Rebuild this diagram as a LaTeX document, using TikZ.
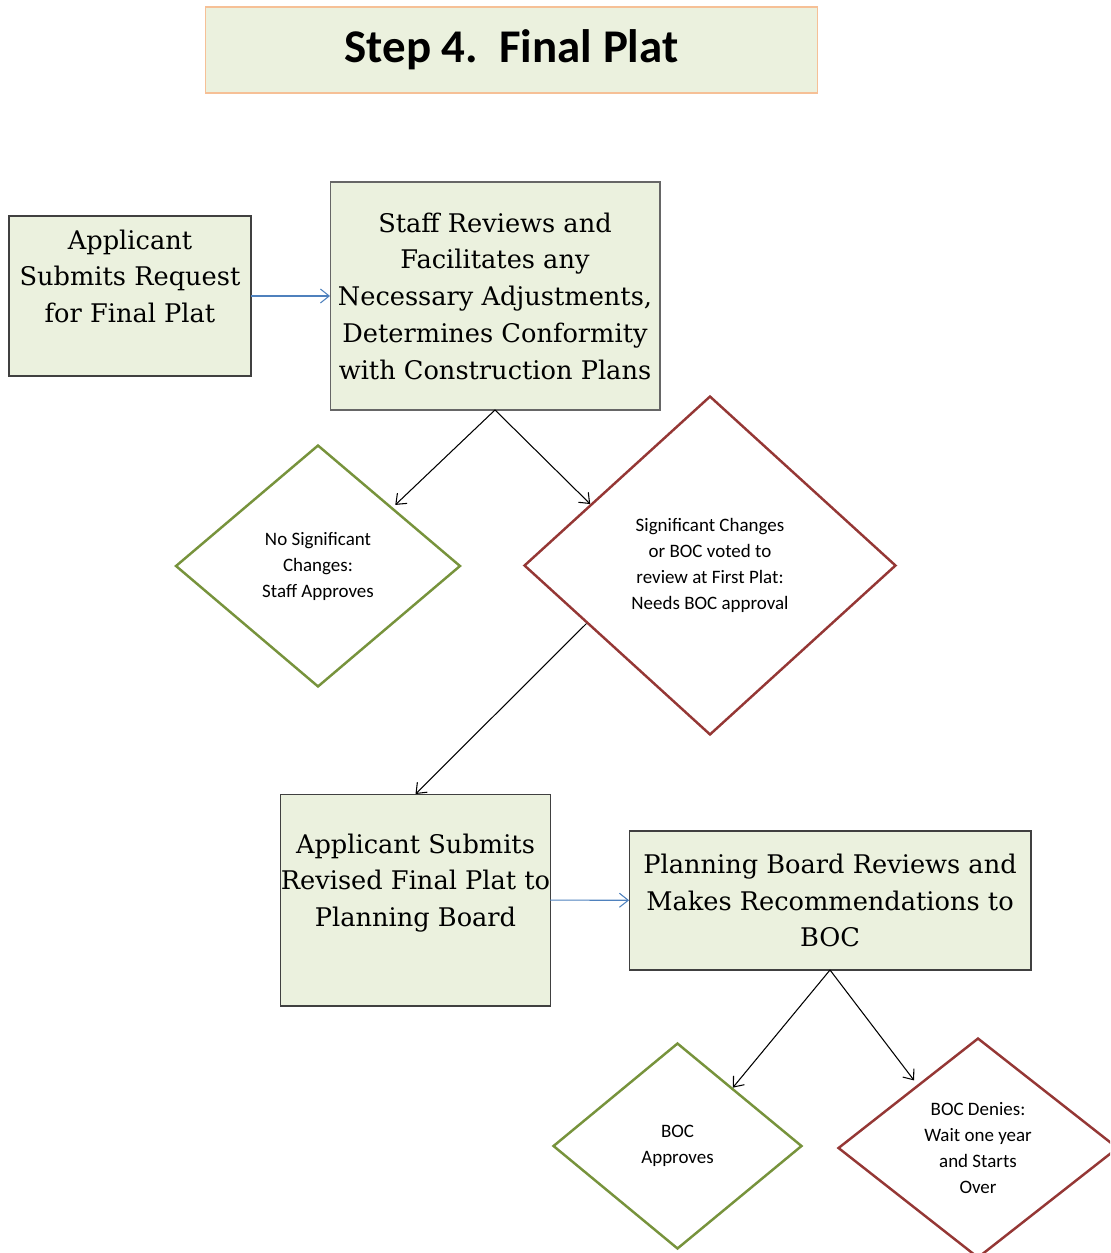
\documentclass[tikz,border=0pt]{standalone}
\usepackage{fontspec}
\setmainfont{DejaVu Serif}
\newfontfamily\calfont{Carlito}
\usepackage{xcolor}
\usepackage{tikz}
\usetikzlibrary{shapes, calc, arrows, arrows.meta, positioning}

\definecolor{boxgreen}{RGB}{235,241,222}
\definecolor{boxline}{RGB}{64,64,64}
\definecolor{titleline}{RGB}{246,192,150}
\definecolor{okgreen}{RGB}{119,147,60}
\definecolor{nored}{RGB}{149,55,53}
\definecolor{feedblue}{RGB}{79,129,189}

\begin{document}
\begin{tikzpicture}[x=0.02cm, y=-0.02cm, >={Straight Barb[length=5pt, width=8pt]}]
\tikzstyle{stepbox}=[draw=boxline, line width=0.6pt, fill=boxgreen, inner sep=0pt, outer sep=0pt, align=center, font=\fontsize{14.6}{20.9}\selectfont]
\tikzstyle{yesdia}=[diamond, draw=okgreen, line width=1.4pt, inner sep=0pt, align=center, font=\calfont\fontsize{10.8}{14.8}\selectfont]
\tikzstyle{nodia}=[yesdia, draw=nored]
\tikzstyle{flow}=[->, line width=0.6pt, black]
\tikzstyle{feed}=[->, line width=0.6pt, feedblue]

\path [use as bounding box, clip] (0,0) rectangle (1110,1253);

\node (hdr) at (511.5,50) [draw=titleline, line width=0.6pt, fill=boxgreen, minimum width=12.26cm, minimum height=1.72cm, font=\calfont\bfseries\fontsize{26.7}{32}\selectfont] {Step 4.\ \ Final Plat};

\node (s0) at (130,296) [stepbox, minimum width=4.84cm, minimum height=3.2cm, text depth=22.7pt] {Applicant\\Submits Request\\for Final Plat};
\node (s1) at (495,296) [stepbox, draw=boxline!80, minimum width=6.6cm, minimum height=4.56cm] {Staff Reviews and\\Facilitates any\\Necessary Adjustments,\\Determines Conformity\\with Construction Plans};
\node (s2) at (415.5,900) [stepbox, minimum width=5.38cm, minimum height=4.24cm, text depth=22.7pt] {Applicant Submits\\Revised Final Plat to\\Planning Board};
\node (s3) at (830,900.5) [stepbox, minimum width=8.04cm, minimum height=2.78cm] {Planning Board Reviews and\\Makes Recommendations to\\BOC};

\node (d0) at (318,566) [yesdia, minimum width=5.7cm, minimum height=4.84cm] {No Significant\\Changes:\\Staff Approves};
\node (d1) at (710,565.5) [nodia, minimum width=7.44cm, minimum height=6.78cm] {Significant Changes\\or BOC voted to\\review at First Plat:\\Needs BOC approval};
\node (d2) at (677.5,1146) [yesdia, minimum width=4.98cm, minimum height=4.12cm] {BOC\\Approves};
\node (d3) at (978,1148) [nodia, minimum width=5.6cm, minimum height=4.4cm] {BOC Denies:\\Wait one year\\and Starts\\Over};

\draw [feed] (s0) -- (s1);
\draw [feed] (s2) -- (s3);

\draw [flow, shorten >=2pt] (s1.south) -- ($(d0.north)!0.52!(d0.east)$);
\draw [flow] (s1.south) -- ($(d1.west)!0.36!(d1.north)$);
\draw [flow] ($(d1.west)!0.34!(d1.south)$) -- (s2.north);
\draw [flow] (s3.south) -- ($(d2.north)!0.44!(d2.east)$);
\draw [flow, shorten >=3pt] (s3.south) -- ($(d3.west)!0.57!(d3.north)$);
\end{tikzpicture}
\end{document}
